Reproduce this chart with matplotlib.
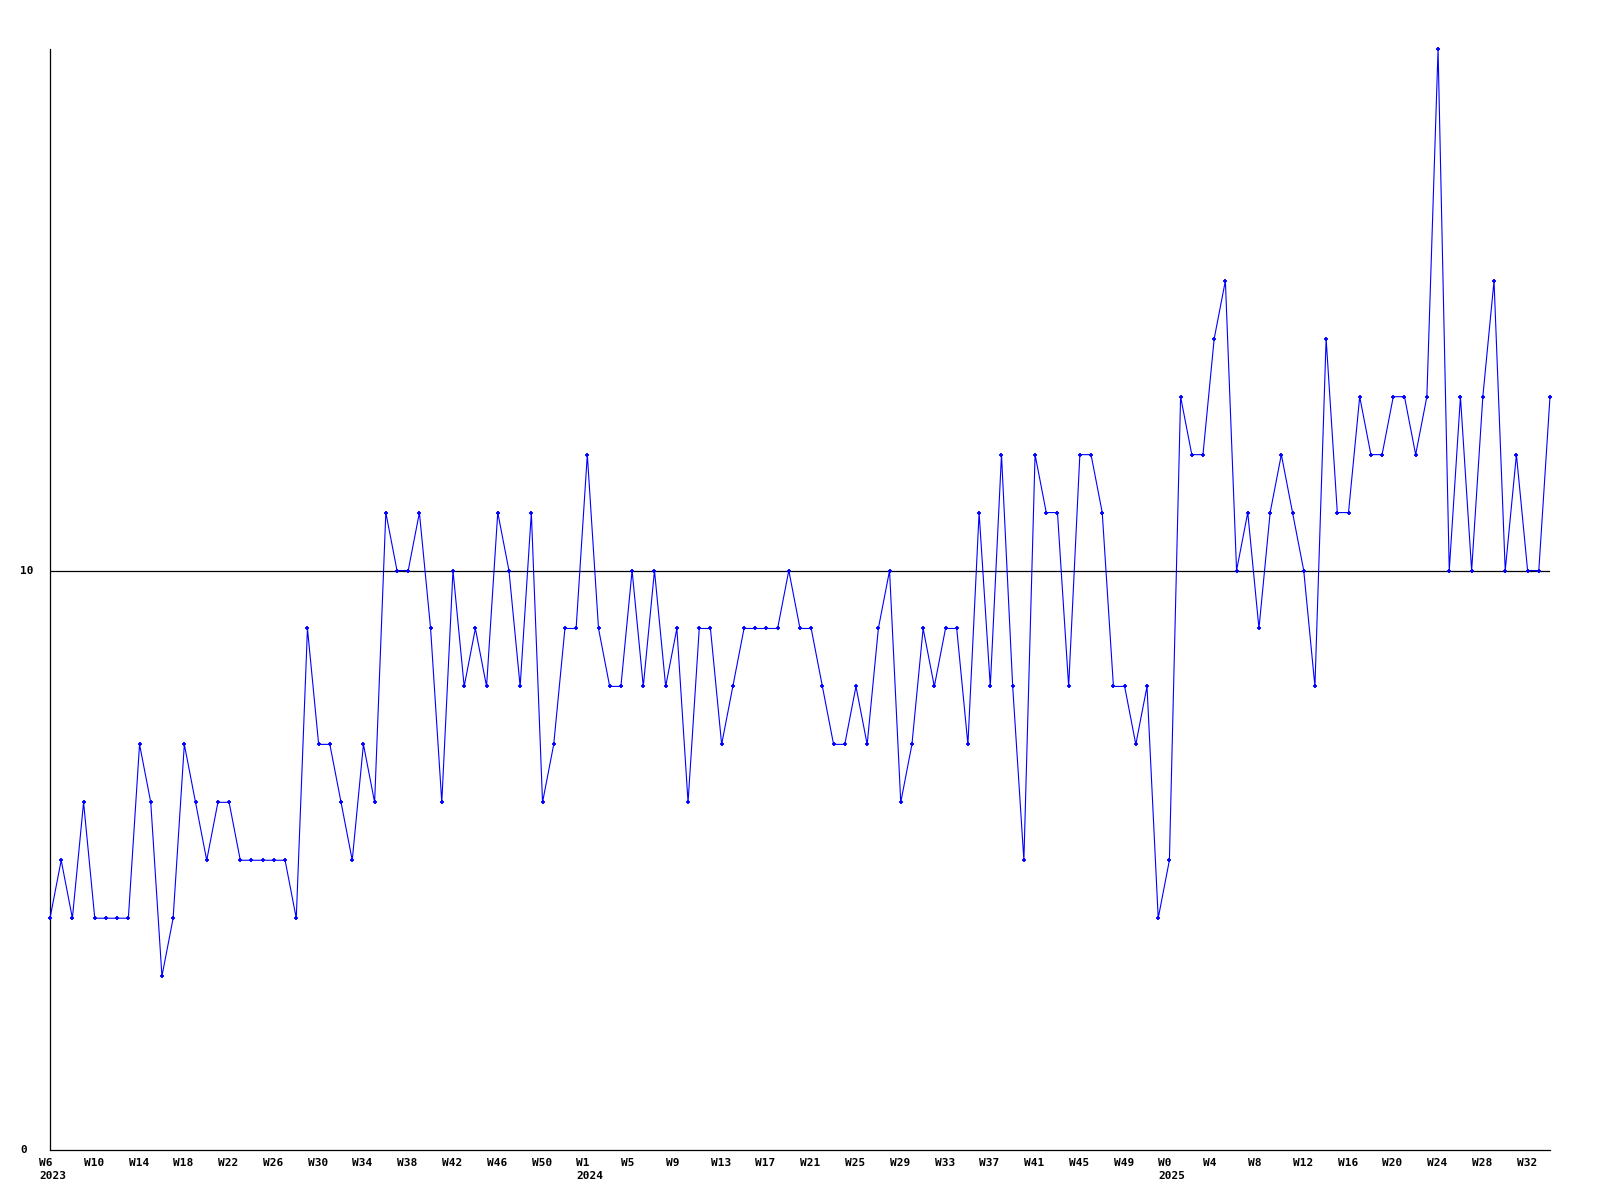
import matplotlib.pyplot as plt
import matplotlib.transforms as mtransforms
import numpy as np

# weekly counts, W6 2023 .. W34 2025
values = [4, 5, 4, 6, 4, 4, 4, 4, 7, 6, 3, 4, 7, 6, 5, 6, 6, 5, 5, 5, 5, 5, 4,
          9, 7, 7, 6, 5, 7, 6, 11, 10, 10, 11, 9, 6, 10, 8, 9, 8, 11, 10, 8, 11, 6, 7, 9,
          9, 12, 9, 8, 8, 10, 8, 10, 8, 9, 6, 9, 9, 7, 8, 9, 9, 9, 9, 10, 9, 9,
          8, 7, 7, 8, 7, 9, 10, 6, 7, 9, 8, 9, 9, 7, 11, 8, 12, 8, 5, 12, 11, 11, 8,
          12, 12, 11, 8, 8, 7, 8, 4, 5,
          13, 12, 12, 14, 15, 10, 11, 9, 11, 12, 11, 10, 8, 14, 11, 11, 13, 12, 12,
          13, 13, 12, 13, 19, 10, 13, 10, 13, 15, 10, 12, 10, 10, 13]

week_labels = ["W6", "W10", "W14", "W18", "W22", "W26", "W30", "W34", "W38", "W42",
               "W46", "W50", "W1", "W5", "W9", "W13", "W17", "W21", "W25", "W29",
               "W33", "W37", "W41", "W45", "W49", "W0", "W4", "W8", "W12", "W16",
               "W20", "W24", "W28", "W32"]
year_labels = {"W6": "2023", "W1": "2024", "W0": "2025"}
y_labels = [0, 10]
ref_value = 10

x = np.arange(len(values))

fig = plt.figure(figsize=(16, 12), dpi=100)
ax = fig.add_axes([50 / 1600, 50 / 1200, 1500 / 1600, 1101 / 1200])

ax.plot(x, values, color='#0000ff', linewidth=0.8, marker='+', markersize=3.5,
        markeredgewidth=1.3, clip_on=False, zorder=5)
ax.axhline(ref_value, color='black', linewidth=0.9, zorder=3)

ax.set_xlim(0, len(values) - 1)
ax.set_ylim(0, max(values))

for s in ['top', 'right']:
    ax.spines[s].set_visible(False)
for s in ['left', 'bottom']:
    ax.spines[s].set_linewidth(0.9)
    ax.spines[s].set_color('black')

ax.set_xticks([])
ax.set_yticks([])

font = dict(family='DejaVu Sans Mono', weight='bold', fontsize=8)

# x labels: left aligned, a little left of each tick
base = ax.get_xaxis_transform()
xt = mtransforms.offset_copy(base, fig=fig, x=-11, y=-8, units='dots')
for i, lab in enumerate(week_labels):
    txt = lab
    if lab in year_labels:
        txt = lab + "\n" + year_labels[lab]
    ax.text(i * 4, 0, txt, transform=xt, ha='left', va='top',
            linespacing=1.4, **font)

# y labels at the far left
yt = mtransforms.blended_transform_factory(fig.transFigure, ax.transData)
for v in y_labels:
    ax.text(20 / 1600, v, str(v), transform=yt, ha='left', va='center', **font)

plt.savefig("out.png", dpi=100)
